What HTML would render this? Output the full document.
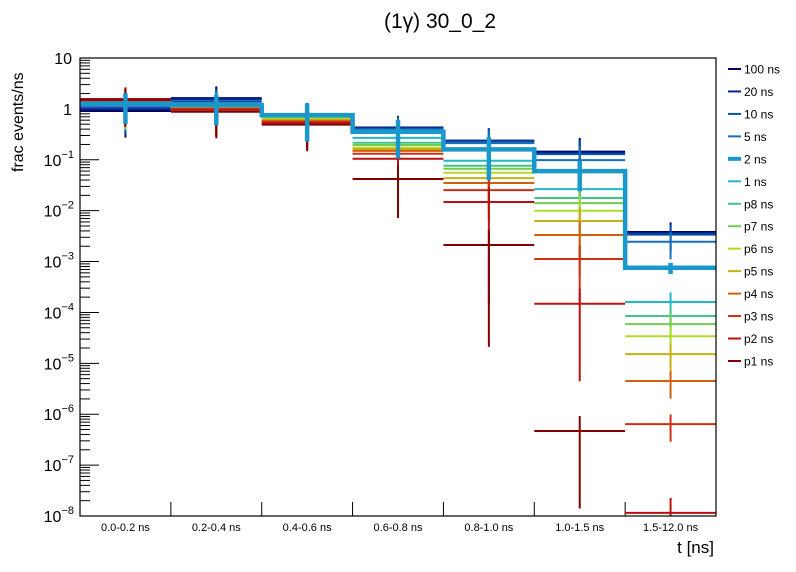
<!DOCTYPE html>
<html><head><meta charset="utf-8"><style>
html,body{margin:0;padding:0;background:#fff;width:796px;height:572px;overflow:hidden}
svg{display:block;font-family:"Liberation Sans",sans-serif}
</style></head><body>
<svg id="chart" width="796" height="572" viewBox="0 0 796 572">
<text x="440" y="28" font-size="21" text-anchor="middle">(1γ) 30_0_2</text>
<text transform="translate(23,172) rotate(-90)" font-size="16">frac events/ns</text>
<text x="714" y="553" font-size="17" text-anchor="end">t [ns]</text>
<g id="axes"></g>
<g id="marks"></g>
<rect x="80" y="58" width="636" height="458" fill="none" stroke="#000" stroke-width="1.2"/>
<g id="legend"></g>
</svg>
<script>
const categories = ["0.0-0.2 ns","0.2-0.4 ns","0.4-0.6 ns","0.6-0.8 ns","0.8-1.0 ns","1.0-1.5 ns","1.5-12.0 ns"];
const seriesNames = ["100 ns","20 ns","10 ns","5 ns","2 ns","1 ns","p8 ns","p7 ns","p6 ns","p5 ns","p4 ns","p3 ns","p2 ns","p1 ns"];
const seriesColors = ["#000066","#00288a","#0850a8","#1570bb","#1a98cc","#20b8c8","#40c488","#70cc50","#b0da28","#c8b010","#d06010","#d03010","#bb1010","#800000"];
const v100 = [0.91,1.63,0.77,0.43,0.238,0.145,0.0038];
const v20  = [0.99,1.56,0.77,0.42,0.233,0.138,0.00363];
const v10  = [1.08,1.42,0.76,0.41,0.228,0.129,0.00339];
const v5   = [1.19,1.30,0.76,0.39,0.213,0.0986,0.00245];
const v2   = [1.27,1.19,0.755,0.355,0.160,0.060,0.000755];
const v1   = [1.30,1.135,0.72,0.27,0.0955,0.0265,0.00016];
const vp8  = [1.33,1.11,0.69,0.216,0.0762,0.0177,0.000085];
const vp7  = [1.36,1.08,0.66,0.195,0.0665,0.0141,0.000059];
const vp6  = [1.39,1.06,0.63,0.172,0.0556,0.00996,0.000034];
const vp5  = [1.42,1.03,0.60,0.162,0.0437,0.00625,0.0000152];
const vp4  = [1.46,1.01,0.58,0.150,0.0349,0.00332,0.0000045];
const vp3  = [1.49,0.99,0.55,0.131,0.0254,0.00112,0.00000064];
const vp2  = [1.56,0.96,0.53,0.105,0.0148,0.000148,0.0000000115];
const vp1  = [1.50,0.88,0.49,0.042,0.00211,0.000000468,0.000000005];
const relErrFast = [0.7,0.7,0.7,0.7,0.75,0.85,0.55];
const relErr2 = [0.6,0.6,0.7,0.7,0.75,0.6,0.25];
const relErrSlowTail = [0.7,0.7,0.7,0.83,0.99,0.97,0.97];
const yTickExps = [1,0,-1,-2,-3,-4,-5,-6,-7,-8];

const allValues = [v100,v20,v10,v5,v2,v1,vp8,vp7,vp6,vp5,vp4,vp3,vp2,vp1];
const NS="http://www.w3.org/2000/svg";
const X0=80,X1=716,Y0=58,Y1=516,LMIN=-8,LMAX=1;
function xb(i){return X0+(X1-X0)*i/categories.length;}
function ys(v){let l=Math.log10(Math.max(v,1e-12));let y=Y1-(l-LMIN)/(LMAX-LMIN)*(Y1-Y0);return Math.min(Y1+3,Math.max(Y0,y));}
function mk(tag,attrs,parent){const e=document.createElementNS(NS,tag);for(const k in attrs)e.setAttribute(k,attrs[k]);parent.appendChild(e);return e;}
const axes=document.getElementById('axes'),marks=document.getElementById('marks'),legend=document.getElementById('legend');
yTickExps.forEach(ex=>{
  const y=ys(Math.pow(10,ex));
  const t=mk('line',{x1:X0,x2:X0+19,y1:y,y2:y,stroke:'#000','stroke-width':1},axes);
  
  
  const tx=mk('text',{x:X0-8,y:y+6,'font-size':16,'text-anchor':'end'},axes);
  
  
  if(ex===1)tx.textContent='10';else if(ex===0)tx.textContent='1';
  else{tx.setAttribute('x',X0-6);const b=mk('tspan',{},tx);b.textContent='10';const sp=mk('tspan',{dy:-8,'font-size':11},tx);sp.textContent=String(ex).replace('-','\u2212');}
  if(ex>LMIN)for(let m=2;m<=9;m++){const ym=ys(m*Math.pow(10,ex-1));
    const mt=mk('line',{x1:X0,x2:X0+10,y1:ym,y2:ym,stroke:'#000','stroke-width':1},axes);
    
    }
});
categories.forEach((c,i)=>{
  if(i>0){const t=mk('line',{x1:xb(i),x2:xb(i),y1:Y1,y2:Y1-14,stroke:'#000','stroke-width':1},axes);
    
    }
  const tx=mk('text',{x:(xb(i)+xb(i+1))/2,y:Y1+15,'font-size':11,'text-anchor':'middle'},axes);
  
  
  tx.textContent=c;
});
function errFor(s,b){if(s===4)return relErr2[b];if(s>=12)return relErrSlowTail[b];return relErrFast[b];}
const clip=mk('clipPath',{id:'pc'},marks);mk('rect',{x:X0,y:Y0,width:X1-X0,height:Y1-Y0},clip);
const g=mk('g',{'clip-path':'url(#pc)'},marks);
function drawSeries(s){
  const vals=allValues[s],col=seriesColors[s],w=s===4?4.5:2;
  const sg=mk('g',{},g);
  
  
  if(s===4){let d='';vals.forEach((v,b)=>{d+=(b===0?'M':'L')+xb(b)+','+ys(v)+'L'+xb(b+1)+','+ys(v);});
    mk('path',{d:d,fill:'none',stroke:col,'stroke-width':w},sg);}
  vals.forEach((v,b)=>{
    if(s!==4){const h=mk('line',{x1:xb(b),x2:xb(b+1),y1:ys(v),y2:ys(v),stroke:col,'stroke-width':w},sg);
      
      }
    const e=errFor(s,b),cx=(xb(b)+xb(b+1))/2;
    const eb=mk('line',{x1:cx,x2:cx,y1:ys(v*(1+e)),y2:ys(Math.max(v*(1-e),1e-12)),stroke:col,'stroke-width':w},sg);
    
    
  });
}
for(let s=0;s<seriesNames.length;s++)if(s!==4)drawSeries(s);
drawSeries(4);
seriesNames.forEach((n,i)=>{
  const y=69+i*22.46;
  const lg=mk('g',{},legend);
  
  
  mk('line',{x1:728,x2:741,y1:y,y2:y,stroke:seriesColors[i],'stroke-width':i===4?4:2},lg);
  const t=mk('text',{x:744,y:y+4.5,'font-size':12},lg);t.textContent=n;
});
</script>
</body></html>
